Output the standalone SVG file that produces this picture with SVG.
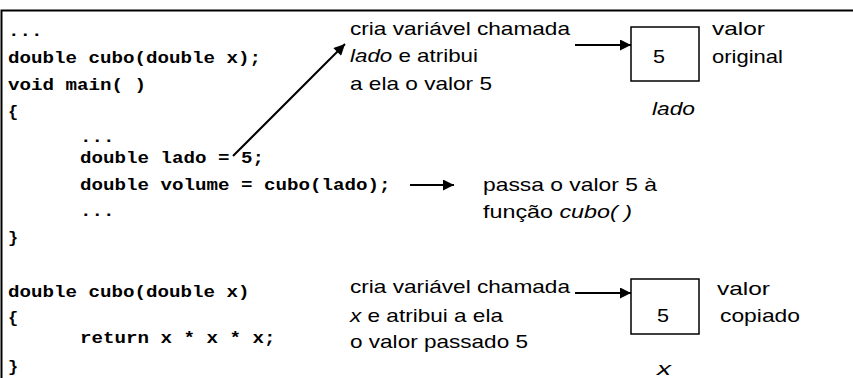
<svg xmlns="http://www.w3.org/2000/svg" width="853" height="378" viewBox="0 0 853 378">
<style>
.code{font-family:"Liberation Mono","Courier New",monospace;font-weight:bold;font-size:17px;fill:#000}
.t{font-family:"Liberation Sans",Arial,sans-serif;font-size:19px;fill:#000}
.i{font-style:italic}
.ln{stroke:#000;stroke-width:2;fill:none}
.box{stroke:#000;stroke-width:1.5;fill:#fff}
</style>
<defs>
<marker id="ah" viewBox="0 0 10 10" refX="10" refY="5" markerWidth="6" markerHeight="5.5" orient="auto" markerUnits="strokeWidth">
<path d="M0,0 L10,5 L0,10 z" fill="#000"/>
</marker>
</defs>
<g id="frame">
<path d="M1.5,378 V10.5 H853" stroke="#000" stroke-width="2" fill="none"/>
</g>
<g id="code">
<text class="code" x="8" y="36" textLength="34.5" lengthAdjust="spacingAndGlyphs">...</text>
<text class="code" x="8" y="63" textLength="253" lengthAdjust="spacingAndGlyphs">double cubo(double x);</text>
<text class="code" x="8" y="90" textLength="138" lengthAdjust="spacingAndGlyphs">void main( )</text>
<text class="code" x="8" y="117">{</text>
<text class="code" x="80" y="142" textLength="34.5" lengthAdjust="spacingAndGlyphs">...</text>
<text class="code" x="80" y="163" textLength="184" lengthAdjust="spacingAndGlyphs">double lado = 5;</text>
<text class="code" x="80" y="190" textLength="310.5" lengthAdjust="spacingAndGlyphs">double volume = cubo(lado);</text>
<text class="code" x="80" y="216" textLength="34.5" lengthAdjust="spacingAndGlyphs">...</text>
<text class="code" x="8" y="243">}</text>
<text class="code" x="8" y="297" textLength="241.5" lengthAdjust="spacingAndGlyphs">double cubo(double x)</text>
<text class="code" x="8" y="323">{</text>
<text class="code" x="80" y="343" textLength="195.5" lengthAdjust="spacingAndGlyphs">return x * x * x;</text>
<text class="code" x="8" y="372">}</text>
</g>
<g id="note1">
<text class="t" x="350" y="35" textLength="220" lengthAdjust="spacingAndGlyphs">cria variável chamada</text>
<text class="t" x="350" y="62" textLength="128" lengthAdjust="spacingAndGlyphs"><tspan class="i">lado</tspan> e atribui</text>
<text class="t" x="350" y="90" textLength="142" lengthAdjust="spacingAndGlyphs">a ela o valor 5</text>
</g>
<g id="box-lado">
<rect class="box" x="631" y="27" width="68" height="54"/>
<text class="t" x="653" y="63" textLength="12" lengthAdjust="spacingAndGlyphs">5</text>
<text class="t i" x="652" y="115" textLength="43" lengthAdjust="spacingAndGlyphs">lado</text>
</g>
<g id="label-original">
<text class="t" x="712" y="35" textLength="53" lengthAdjust="spacingAndGlyphs">valor</text>
<text class="t" x="712" y="63" textLength="71" lengthAdjust="spacingAndGlyphs">original</text>
</g>
<g id="note2">
<text class="t" x="483" y="191" textLength="174" lengthAdjust="spacingAndGlyphs">passa o valor 5 à</text>
<text class="t" x="483" y="218" textLength="149" lengthAdjust="spacingAndGlyphs">função <tspan class="i">cubo( )</tspan></text>
</g>
<g id="note3">
<text class="t" x="350" y="293" textLength="220" lengthAdjust="spacingAndGlyphs">cria variável chamada</text>
<text class="t" x="350" y="322" textLength="153" lengthAdjust="spacingAndGlyphs"><tspan class="i">x</tspan> e atribui a ela</text>
<text class="t" x="350" y="348" textLength="178" lengthAdjust="spacingAndGlyphs">o valor passado 5</text>
</g>
<g id="box-x">
<rect class="box" x="631" y="279" width="68" height="55"/>
<text class="t" x="657" y="322" textLength="12" lengthAdjust="spacingAndGlyphs">5</text>
<text class="t i" x="657" y="375" textLength="14" lengthAdjust="spacingAndGlyphs">x</text>
</g>
<g id="label-copiado">
<text class="t" x="717" y="295" textLength="53" lengthAdjust="spacingAndGlyphs">valor</text>
<text class="t" x="720" y="322" textLength="80" lengthAdjust="spacingAndGlyphs">copiado</text>
</g>
<g id="connectors">
<line class="ln" x1="233" y1="156" x2="345" y2="44" marker-end="url(#ah)"/>
<line class="ln" x1="575" y1="45" x2="631" y2="45" marker-end="url(#ah)"/>
<line class="ln" x1="410" y1="185" x2="454" y2="185" marker-end="url(#ah)"/>
<line class="ln" x1="575" y1="293" x2="631" y2="293" marker-end="url(#ah)"/>
</g>
</svg>
